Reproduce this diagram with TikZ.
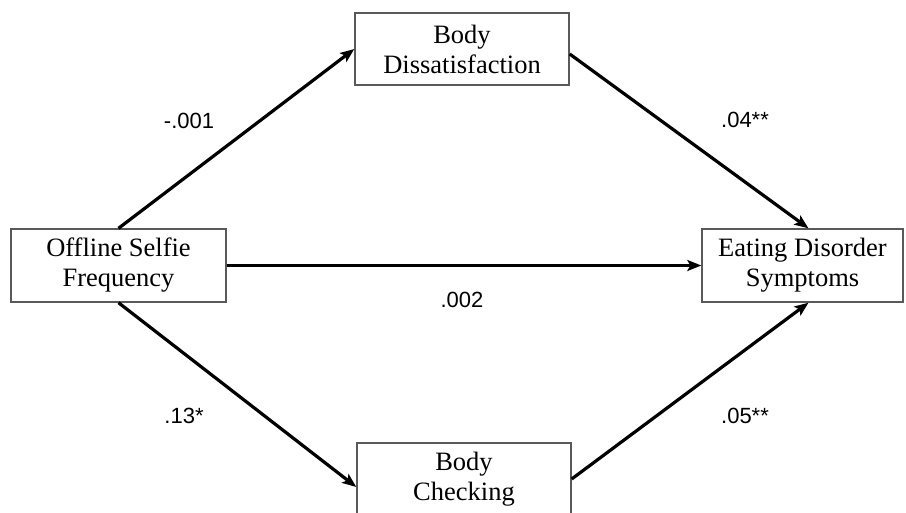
\documentclass[tikz,border=0pt]{standalone}
\usepackage{fontspec}
\setmainfont{Liberation Serif}
\newfontfamily\labfont{Liberation Sans}
\usetikzlibrary{arrows.meta}
\begin{document}
\begin{tikzpicture}[x=1pt,y=-1pt,
  varbox/.style={draw=black!65,line width=1.4pt,fill=white,align=center,inner sep=0pt,
    font=\fontsize{26.5}{30}\selectfont},
  path/.style={line width=3.2pt,-{Stealth[length=14pt,width=11pt,inset=3pt]}},
  coef/.style={font=\labfont\fontsize{22}{24}\selectfont,inner sep=0pt}]
\useasboundingbox (0,0) rectangle (906,512);
\clip (0,0) rectangle (906,512);
\node[varbox,minimum width=214pt,minimum height=72pt] (bd) at (462,49) {Body\\Dissatisfaction};
\node[varbox,minimum width=214pt,minimum height=72pt] (bc) at (464,479) {Body\\Checking};
\node[varbox,minimum width=215pt,minimum height=73pt] (osf) at (118.5,265.5) {Offline Selfie\\Frequency};
\node[varbox,minimum width=201pt,minimum height=73pt] (eds) at (802.5,265.5) {Eating Disorder\\Symptoms};
\draw[path] (osf.north) -- (bd.west);
\draw[path] ([yshift=-5pt]bd.east) -- ([xshift=6pt]eds.north);
\draw[path] (osf.east) -- (eds.west);
\draw[path] (osf.south) -- ([yshift=-8pt]bc.west);
\draw[path] (bc.east) -- ([xshift=6pt]eds.south);
\node[coef] (c1) at (189,121) {-.001};
\node[coef] (c2) at (745,120) {.04**};
\node[coef] (c3) at (462,300) {.002};
\node[coef] (c4) at (184,416) {.13*};
\node[coef] (c5) at (745,416) {.05**};
\end{tikzpicture}
\end{document}
